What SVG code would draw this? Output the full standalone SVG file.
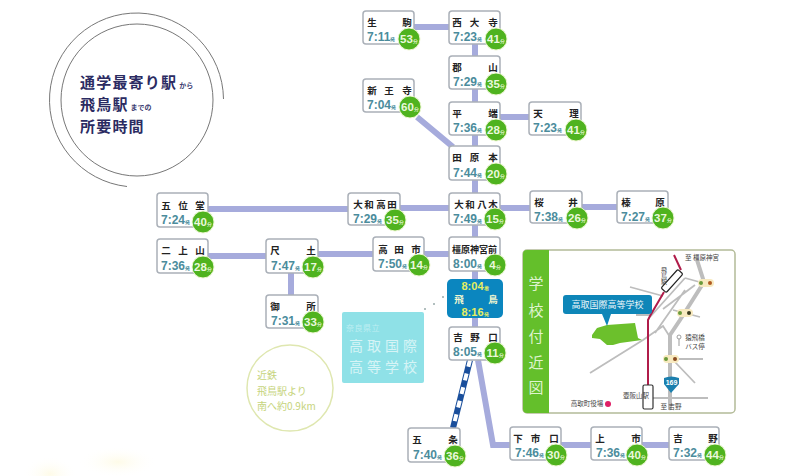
<svg xmlns="http://www.w3.org/2000/svg" width="800" height="476" viewBox="0 0 800 476">
<style>
text{font-family:"Noto Sans CJK JP","Liberation Sans",sans-serif}
.box{fill:#fff;stroke:#aab0b8;stroke-width:1.5}
.nm{font-size:9.500px;font-weight:700;fill:#222;text-anchor:middle}
.tm{font-family:"Liberation Sans",sans-serif;font-size:12px;font-weight:700;fill:#4b8c9c}
.sm{font-size:5px}
.b{fill:#4fb31f;stroke:#eef7d2;stroke-width:1}
.mn{font-family:"Liberation Sans",sans-serif;font-size:11.500px;font-weight:700;fill:#eaf8dc;text-anchor:middle}
.ln{fill:none;stroke:#a6abdc;stroke-width:6}
.rd{fill:none;stroke:#bdbdbd;stroke-width:1.8}
.ti{font-size:15px;font-weight:700;fill:#2b2b62;letter-spacing:1.200px}
.ts{font-size:7px;font-weight:700;fill:#3b3b70;letter-spacing:0}
.fy{font-family:"Liberation Sans",sans-serif;font-size:11px;font-weight:700;fill:#e6ee62;text-anchor:middle}
.mp{font-size:6.5px;fill:#444;text-anchor:middle}
.sb{font-size:15px;fill:#dff3cf;text-anchor:middle}
.cy{font-size:14px;fill:#d6f4f6;text-anchor:middle;letter-spacing:4px}
.ye{font-size:10px;fill:#c6d47c}
</style>
<defs>
<radialGradient id="sm"><stop offset="0" stop-color="#fefbe8"/><stop offset="1" stop-color="#fff" stop-opacity="0"/></radialGradient>
</defs>
<rect width="800" height="476" fill="#fff"/>
<ellipse cx="50" cy="474" rx="28" ry="18" fill="url(#sm)"/>
<ellipse cx="118" cy="462" rx="40" ry="16" fill="url(#sm)"/>

<g id="title">
<circle cx="137" cy="100" r="76" fill="none" stroke="#777" stroke-width="1"/>
<path d="M223.500 99A87 87 0 1 0 127 186.500" fill="none" stroke="#777" stroke-width="1"/>
<text class="ti" x="80" y="88">通学最寄り駅<tspan class="ts" dx="2">から</tspan></text>
<text class="ti" x="80" y="110">飛鳥駅<tspan class="ts" dx="2">までの</tspan></text>
<text class="ti" x="80" y="132">所要時間</text>
</g>

<g id="connectors">
<path class="ln" d="M414 27H449M475 44V56M475 89V102M475 135V146M417 117L453 147M500 117H529M475 180V193M208 209H348M400 208H449M500 208H530M582 207H617M208 256H266M318 254H373M424 254H449M475 225V237M475 271V279M475 318V327M291 273V295M478 360L493 445H510M561 445H591M642 445H669"/>
<path d="M470 360L453 428" fill="none" stroke="#1a4f9c" stroke-width="6"/>
<path d="M470 360L453 428" fill="none" stroke="#fff" stroke-width="4" stroke-dasharray="7 7"/>
</g>

<g id="n-ikoma" transform="translate(363,11)"><rect class="box" width="51" height="33" rx="3"/><text class="nm" x="9" y="15">生</text><text class="nm" x="44" y="15">駒</text><text class="tm" x="4" y="30">7:11<tspan class="sm">発</tspan></text><circle class="b" cx="46" cy="28" r="11"/><text class="mn" x="46" y="32">53<tspan class="sm">分</tspan></text></g>
<g id="n-saidaiji" transform="translate(449,11)"><rect class="box" width="51" height="33" rx="3"/><text class="nm" x="8" y="15">西</text><text class="nm" x="25.500" y="15">大</text><text class="nm" x="44" y="15">寺</text><text class="tm" x="4" y="30">7:23<tspan class="sm">発</tspan></text><circle class="b" cx="47" cy="28" r="11"/><text class="mn" x="47" y="32">41<tspan class="sm">分</tspan></text></g>
<g id="n-koriyama" transform="translate(449,56)"><rect class="box" width="51" height="33" rx="3"/><text class="nm" x="8" y="15">郡</text><text class="nm" x="44" y="15">山</text><text class="tm" x="4" y="30">7:29<tspan class="sm">発</tspan></text><circle class="b" cx="47" cy="28" r="11"/><text class="mn" x="47" y="32">35<tspan class="sm">分</tspan></text></g>
<g id="n-shinoji" transform="translate(363,79)"><rect class="box" width="51" height="33" rx="3"/><text class="nm" x="9" y="15">新</text><text class="nm" x="26" y="15">王</text><text class="nm" x="44" y="15">寺</text><text class="tm" x="4" y="30">7:04<tspan class="sm">発</tspan></text><circle class="b" cx="47" cy="28" r="11"/><text class="mn" x="47" y="32">60<tspan class="sm">分</tspan></text></g>
<g id="n-hirahata" transform="translate(449,102)"><rect class="box" width="51" height="33" rx="3"/><text class="nm" x="8" y="15">平</text><text class="nm" x="44" y="15">端</text><text class="tm" x="4" y="30">7:36<tspan class="sm">発</tspan></text><circle class="b" cx="47" cy="28" r="11"/><text class="mn" x="47" y="32">28<tspan class="sm">分</tspan></text></g>
<g id="n-tenri" transform="translate(529,102)"><rect class="box" width="52" height="33" rx="3"/><text class="nm" x="9" y="15">天</text><text class="nm" x="45" y="15">理</text><text class="tm" x="4" y="30">7:23<tspan class="sm">発</tspan></text><circle class="b" cx="47" cy="28" r="11"/><text class="mn" x="47" y="32">41<tspan class="sm">分</tspan></text></g>
<g id="n-tawaramoto" transform="translate(449,146)"><rect class="box" width="51" height="34" rx="3"/><text class="nm" x="8" y="15">田</text><text class="nm" x="25.500" y="15">原</text><text class="nm" x="44" y="15">本</text><text class="tm" x="4" y="31">7:44<tspan class="sm">発</tspan></text><circle class="b" cx="47" cy="28" r="11"/><text class="mn" x="47" y="32">20<tspan class="sm">分</tspan></text></g>
<g id="n-goido" transform="translate(157,193)"><rect class="box" width="51" height="34" rx="3"/><text class="nm" x="9" y="16">五</text><text class="nm" x="26" y="16">位</text><text class="nm" x="43" y="16">堂</text><text class="tm" x="4" y="31">7:24<tspan class="sm">発</tspan></text><circle class="b" cx="46" cy="29" r="11"/><text class="mn" x="46" y="33">40<tspan class="sm">分</tspan></text></g>
<g id="n-yamatotakada" transform="translate(348,193)"><rect class="box" width="52" height="32" rx="3"/><text class="nm" x="10" y="15">大</text><text class="nm" x="21" y="15">和</text><text class="nm" x="33" y="15">高</text><text class="nm" x="44" y="15">田</text><text class="tm" x="5" y="30">7:29<tspan class="sm">発</tspan></text><circle class="b" cx="47" cy="27" r="11"/><text class="mn" x="47" y="31">35<tspan class="sm">分</tspan></text></g>
<g id="n-yamatoyagi" transform="translate(449,193)"><rect class="box" width="51" height="32" rx="3"/><text class="nm" x="10" y="15">大</text><text class="nm" x="21" y="15">和</text><text class="nm" x="33" y="15">八</text><text class="nm" x="44" y="15">木</text><text class="tm" x="4" y="30">7:49<tspan class="sm">発</tspan></text><circle class="b" cx="46" cy="26" r="11"/><text class="mn" x="46" y="30">15<tspan class="sm">分</tspan></text></g>
<g id="n-sakurai" transform="translate(530,191)"><rect class="box" width="52" height="32" rx="3"/><text class="nm" x="9" y="15">桜</text><text class="nm" x="43" y="15">井</text><text class="tm" x="4" y="30">7:38<tspan class="sm">発</tspan></text><circle class="b" cx="47" cy="27" r="11"/><text class="mn" x="47" y="31">26<tspan class="sm">分</tspan></text></g>
<g id="n-haibara" transform="translate(617,191)"><rect class="box" width="51" height="32" rx="3"/><text class="nm" x="9" y="15">榛</text><text class="nm" x="43" y="15">原</text><text class="tm" x="4" y="30">7:27<tspan class="sm">発</tspan></text><circle class="b" cx="46" cy="27" r="11"/><text class="mn" x="46" y="31">37<tspan class="sm">分</tspan></text></g>
<g id="n-nijozan" transform="translate(157,239)"><rect class="box" width="51" height="34" rx="3"/><text class="nm" x="9" y="15">二</text><text class="nm" x="26" y="15">上</text><text class="nm" x="43" y="15">山</text><text class="tm" x="4" y="31">7:36<tspan class="sm">発</tspan></text><circle class="b" cx="46" cy="28" r="11"/><text class="mn" x="46" y="32">28<tspan class="sm">分</tspan></text></g>
<g id="n-shakudo" transform="translate(266,239)"><rect class="box" width="52" height="34" rx="3"/><text class="nm" x="9" y="15">尺</text><text class="nm" x="45" y="15">土</text><text class="tm" x="5" y="31">7:47<tspan class="sm">発</tspan></text><circle class="b" cx="47" cy="28" r="11"/><text class="mn" x="47" y="32">17<tspan class="sm">分</tspan></text></g>
<g id="n-takadashi" transform="translate(373,237)"><rect class="box" width="51" height="34" rx="3"/><text class="nm" x="10" y="16">高</text><text class="nm" x="26" y="16">田</text><text class="nm" x="43" y="16">市</text><text class="tm" x="5" y="31">7:50<tspan class="sm">発</tspan></text><circle class="b" cx="46" cy="28" r="11"/><text class="mn" x="46" y="32">14<tspan class="sm">分</tspan></text></g>
<g id="n-kashiharajingumae" transform="translate(449,237)"><rect class="box" width="51" height="34" rx="3"/><text class="nm" style="font-size:9px" x="25.500" y="16">橿原神宮前</text><text class="tm" x="4" y="31">8:00<tspan class="sm">発</tspan></text><circle class="b" cx="46" cy="28" r="11"/><text class="mn" x="46" y="32">4<tspan class="sm">分</tspan></text></g>
<g id="n-gose" transform="translate(266,295)"><rect class="box" width="52" height="33" rx="3"/><text class="nm" x="9" y="15">御</text><text class="nm" x="45" y="15">所</text><text class="tm" x="5" y="30">7:31<tspan class="sm">発</tspan></text><circle class="b" cx="47" cy="27" r="11"/><text class="mn" x="47" y="31">33<tspan class="sm">分</tspan></text></g>
<g id="n-asuka" transform="translate(447,279)"><rect width="56" height="39" rx="5" fill="#0b86bf"/><text class="fy" x="28" y="11">8:04<tspan class="sm">着</tspan></text><text class="nm" style="fill:#f2f7d0" x="12" y="24">飛</text><text class="nm" style="fill:#f2f7d0" x="46" y="24">鳥</text><text class="fy" x="28" y="37">8:16<tspan class="sm">発</tspan></text></g>
<g id="n-yoshinoguchi" transform="translate(449,327)"><rect class="box" width="51" height="33" rx="3"/><text class="nm" x="9" y="14">吉</text><text class="nm" x="26" y="14">野</text><text class="nm" x="44" y="14">口</text><text class="tm" x="4" y="29">8:05<tspan class="sm">発</tspan></text><circle class="b" cx="46" cy="26" r="11"/><text class="mn" x="46" y="30">11<tspan class="sm">分</tspan></text></g>
<g id="n-gojo" transform="translate(408,428)"><rect class="box" width="52" height="34" rx="3"/><text class="nm" x="9" y="15">五</text><text class="nm" x="45" y="15">条</text><text class="tm" x="5" y="31">7:40<tspan class="sm">発</tspan></text><circle class="b" cx="47" cy="28" r="11"/><text class="mn" x="47" y="32">36<tspan class="sm">分</tspan></text></g>
<g id="n-shimoichiguchi" transform="translate(510,427)"><rect class="box" width="51" height="33" rx="3"/><text class="nm" x="8" y="15">下</text><text class="nm" x="25.500" y="15">市</text><text class="nm" x="44" y="15">口</text><text class="tm" x="5" y="30">7:46<tspan class="sm">発</tspan></text><circle class="b" cx="46" cy="28" r="11"/><text class="mn" x="46" y="32">30<tspan class="sm">分</tspan></text></g>
<g id="n-kamiichi" transform="translate(591,427)"><rect class="box" width="51" height="33" rx="3"/><text class="nm" x="9" y="15">上</text><text class="nm" x="45" y="15">市</text><text class="tm" x="5" y="30">7:36<tspan class="sm">発</tspan></text><circle class="b" cx="46" cy="28" r="11"/><text class="mn" x="46" y="32">40<tspan class="sm">分</tspan></text></g>
<g id="n-yoshino" transform="translate(669,427)"><rect class="box" width="50" height="33" rx="3"/><text class="nm" x="9" y="15">吉</text><text class="nm" x="44" y="15">野</text><text class="tm" x="4" y="30">7:32<tspan class="sm">発</tspan></text><circle class="b" cx="46" cy="28" r="11"/><text class="mn" x="46" y="32">44<tspan class="sm">分</tspan></text></g>

<g id="school-label">
<rect x="342" y="312" width="82" height="71" rx="2" fill="#8fe1e7"/>
<text x="346" y="331" style="font-size:8px;fill:#bdeef2;letter-spacing:.5px">奈良県立</text>
<text class="cy" x="385" y="351">高取国際</text>
<text class="cy" x="385" y="372">高等学校</text>
</g>

<g id="walk-note">
<circle cx="290" cy="388" r="43" fill="#fff" stroke="#dfe7b0" stroke-width="1.500"/>
<text class="ye" x="257" y="379">近鉄</text>
<text class="ye" x="257" y="395">飛鳥駅より</text>
<text class="ye" x="257" y="410">南へ約0.9km</text>
</g>

<g id="map">
<rect x="523" y="250" width="212" height="163" rx="4" fill="#fff" stroke="#b3bb98" stroke-width="1.500"/>
<path d="M549 250H527a4 4 0 0 0-4 4V409a4 4 0 0 0 4 4H549Z" fill="#64bf2b"/>
<text class="sb" x="536" y="289">学</text>
<text class="sb" x="536" y="316">校</text>
<text class="sb" x="536" y="342">付</text>
<text class="sb" x="536" y="368">近</text>
<text class="sb" x="536" y="393">図</text>
<path class="rd" d="M685 278L703 283M685 278L650 317M695 285L663 309M673 310L700 317M655 333L685 290M630 287L663 296M636 315H650M590 373L643 340L663 326L670 337M677 359H703M675 362L695 383M653 398H708"/>
<path d="M697 260L704 282L680 320L670 335V410" fill="none" stroke="#bdbdbd" stroke-width="4"/>
<path d="M592 335L597 328L607 325L635 323L638 338L642 340L620 343L613 345H607L600 339L592 338Z" fill="#6cc02c"/>
<path d="M674 255L681 270M664 292L650 316L648 320V386" fill="none" stroke="#b01c4a" stroke-width="2"/>
<rect x="668.500" y="268.500" width="7" height="25" rx="1.500" transform="rotate(42 672 281)" fill="#fff" stroke="#222" stroke-width="1.200"/>
<rect x="643" y="385" width="10" height="24" rx="1.500" fill="#fff" stroke="#333" stroke-width="1.200"/>
<rect x="563" y="295" width="89" height="19" rx="3" fill="#0e86b8"/>
<path d="M602 314H611L607 326Z" fill="#0e86b8"/>
<text x="607.500" y="308" style="font-size:9px;fill:#eef8fb;text-anchor:middle">高取国際高等学校</text>
<g id="lights">
<rect x="698" y="279" width="16" height="8" rx="4" fill="#f8eac0"/><circle cx="701" cy="283" r="2" fill="#6a9a3a"/><circle cx="710" cy="283" r="2" fill="#b05a20"/>
<rect x="677" y="309" width="16" height="8" rx="4" fill="#f8eac0"/><circle cx="680" cy="313" r="2" fill="#6a9a3a"/><circle cx="689" cy="313" r="2" fill="#3a3a20"/>
<rect x="663" y="355" width="16" height="8" rx="4" fill="#f8eac0"/><circle cx="666" cy="359" r="2" fill="#6a9a3a"/><circle cx="675" cy="359" r="2" fill="#8a4a20"/>
</g>
<path d="M664 378Q671 375 679 378V384L671 393L664 384Z" fill="#1b7fae"/>
<text x="671.500" y="385" style="font-family:'Liberation Sans',sans-serif;font-size:7px;font-weight:700;fill:#fff;text-anchor:middle">169</text>
<path d="M679 339V346" stroke="#999" stroke-width="1"/><circle cx="679" cy="337" r="2" fill="#fff" stroke="#888" stroke-width=".8"/>
<circle cx="608" cy="404" r="3" fill="#df1f66"/>
<text class="mp" x="702" y="260">至 橿原神宮</text>
<text class="mp" x="695" y="340">猿飛橋</text>
<text class="mp" x="695" y="349">バス停</text>
<text class="mp" x="636" y="398">壺阪山駅</text>
<text class="mp" x="671" y="409">至 吉野</text>
<text class="mp" x="587" y="406">高取町役場</text>
<text x="664" y="267" style="font-size:6px;fill:#444;writing-mode:vertical-rl">飛鳥駅</text>
</g>
<circle cx="443" cy="297" r="1" fill="#9aa"/><circle cx="434" cy="304" r="1" fill="#9aa"/><circle cx="425" cy="309" r="1" fill="#9aa"/>
</svg>
